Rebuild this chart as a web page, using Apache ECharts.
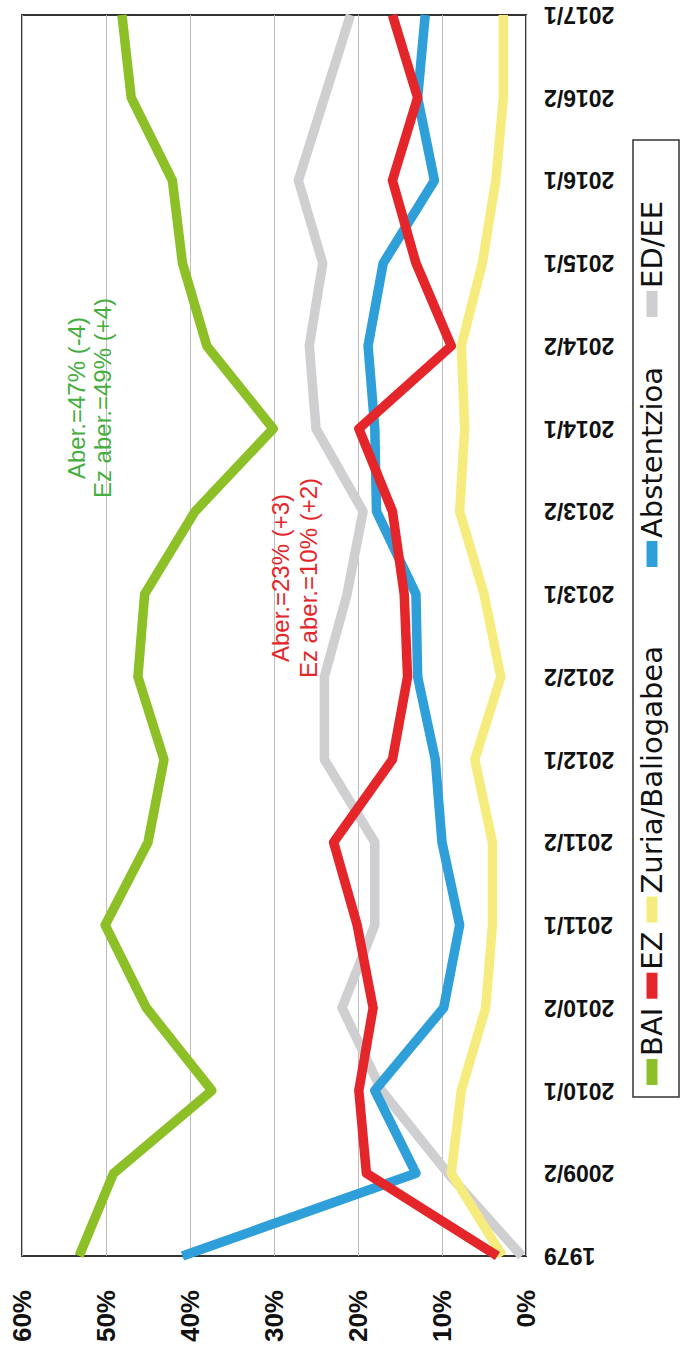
<!DOCTYPE html>
<html><head><meta charset="utf-8">
<script src="https://cdn.jsdelivr.net/npm/echarts@6/dist/echarts.min.js"></script>
<style>
html,body{margin:0;padding:0;background:#fff;overflow:hidden;width:681px;height:1357px}
#chart{position:absolute;left:0;top:0;width:1357px;height:681px;transform-origin:0 0;transform:translateY(1357px) rotate(-90deg);}
</style></head><body><div id="chart"></div>
<script>
const categories = ['1979','2009/2','2010/1','2010/2','2011/1','2011/2','2012/1','2012/2','2013/1','2013/2','2014/1','2014/2','2015/1','2016/1','2016/2','2017/1'];
const bai   = [53.2, 49.1, 37.4, 45.2, 50.1, 45.0, 43.1, 46.2, 45.4, 39.4, 30.1, 38.0, 40.9, 42.1, 47.0, 48.1];
const ez    = [3.4, 19.0, 19.9, 18.2, 20.1, 22.9, 15.9, 14.1, 14.5, 15.9, 19.9, 8.9, 13.1, 15.9, 12.9, 15.9];
const zuria = [2.8, 8.9, 7.7, 4.8, 4.0, 4.0, 6.1, 3.0, 5.0, 7.9, 7.3, 7.7, 5.2, 3.6, 2.7, 2.7];
const abst  = [40.9, 13.1, 18.0, 9.8, 7.9, 10.0, 10.8, 12.9, 13.1, 17.8, 18.0, 18.8, 17.0, 10.9, 12.9, 12.0];
const edee  = [0.5, 9.3, 17.2, 21.9, 18.0, 18.0, 24.0, 24.0, 21.3, 19.4, 25.0, 25.8, 24.2, 27.1, 24.0, 20.9];
const valueTicks = [0, 10, 20, 30, 40, 50, 60];
const seriesNames = ['BAI', 'EZ', 'Zuria/Baliogabea', 'Abstentzioa', 'ED/EE'];
const annoGreen = 'Aber.=47% (-4)\nEz aber.=49% (+4)';
const annoRed = 'Aber.=23% (+3)\nEz aber.=10% (+2)';

const colors = ['#8DBF27', '#E4262A', '#F6EC7E', '#2E9FD9', '#CFCFD1'];
const chart = echarts.init(document.getElementById('chart'), null, {renderer: 'svg'});
const dataSets = [bai, ez, zuria, abst, edee];
const zs = [3, 5, 2, 4, 1];
const sans = '"Liberation Sans", Arial, sans-serif';
const legendFont = {fontFamily: '"DejaVu Sans", sans-serif', fontSize: 29, lineHeight: 30, color: '#111', padding: [0, 0, 0, -2]};
const legendCommon = {top: 637, icon: 'rect', itemWidth: 26, itemHeight: 11, padding: 0, textStyle: legendFont};
chart.setOption({
  animation: false,
  backgroundColor: '#fff',
  color: colors,
  grid: {left: 101, right: 15, top: 22, bottom: 155, show: true, borderColor: '#333', borderWidth: 2, containLabel: false},
  legend: [
    Object.assign({data: seriesNames.slice(0, 3), left: 272, itemGap: 9}, legendCommon),
    Object.assign({data: seriesNames.slice(3), left: 790, itemGap: 50}, legendCommon)
  ],
  xAxis: {
    type: 'category', data: categories, boundaryGap: false,
    axisLine: {show: false}, axisTick: {show: false}, splitLine: {show: false},
    axisLabel: {rotate: 90, fontFamily: sans, fontWeight: 'bold', fontSize: 23, color: '#111', margin: 18, interval: 0}
  },
  yAxis: {
    type: 'value', min: valueTicks[0], max: valueTicks[valueTicks.length - 1], interval: 10,
    axisLine: {show: false}, axisTick: {show: false},
    splitLine: {lineStyle: {color: '#bdbdbd', width: 1}},
    axisLabel: {formatter: '{value}%', fontFamily: sans, fontWeight: 'bold', fontSize: 26, color: '#111', margin: 34}
  },
  graphic: [
    {type: 'rect', shape: {x: 260, y: 633, width: 957, height: 46}, style: {fill: 'none', stroke: '#333', lineWidth: 1.5}, z: 10},
    {type: 'text', x: 959, y: 63, z: 10, style: {text: annoGreen, fill: '#45AE3F', fontSize: 24, lineHeight: 26, textAlign: 'center', textVerticalAlign: 'top', fontFamily: sans}},
    {type: 'text', x: 779, y: 266, z: 10, style: {text: annoRed, fill: '#E4262A', fontSize: 24, lineHeight: 28, textAlign: 'center', textVerticalAlign: 'top', fontFamily: sans}}
  ],
  series: seriesNames.map((n, i) => ({
    name: n, type: 'line', data: dataSets[i], symbol: 'none', z: zs[i],
    lineStyle: {width: 9.5, color: colors[i], cap: 'butt', join: 'round'},
    itemStyle: {color: colors[i]}
  }))
});
</script></body></html>
